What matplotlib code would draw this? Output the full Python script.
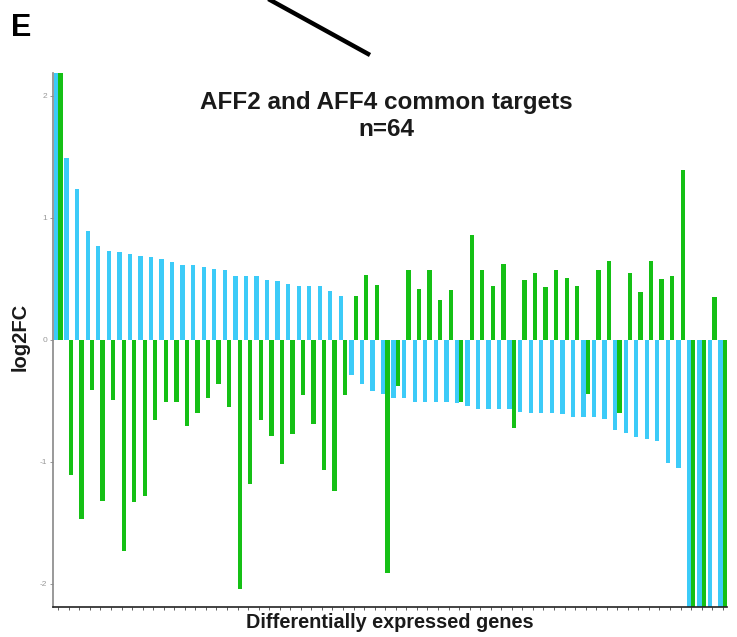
import numpy as np
import matplotlib.pyplot as plt
from matplotlib.lines import Line2D

# log2 fold change per gene, two conditions (sorted on the blue series)
blue_fc = [2.9, 1.49, 1.24, 0.89, 0.77, 0.73, 0.72, 0.70, 0.69, 0.68,
           0.66, 0.64, 0.61, 0.61, 0.60, 0.58, 0.57, 0.52, 0.52, 0.52,
           0.49, 0.48, 0.46, 0.44, 0.44, 0.44, 0.40, 0.36, -0.29, -0.36,
           -0.42, -0.44, -0.48, -0.48, -0.51, -0.51, -0.51, -0.51, -0.52, -0.54,
           -0.57, -0.57, -0.57, -0.57, -0.59, -0.60, -0.60, -0.60, -0.61, -0.63,
           -0.63, -0.63, -0.65, -0.74, -0.76, -0.80, -0.81, -0.83, -1.01, -1.05,
           -2.6, -2.8, -3.0, -3.3]
green_fc = [2.6, -1.11, -1.47, -0.41, -1.32, -0.49, -1.73, -1.33, -1.28, -0.66,
            -0.51, -0.51, -0.71, -0.60, -0.48, -0.36, -0.55, -2.04, -1.18, -0.66,
            -0.79, -1.02, -0.77, -0.45, -0.69, -1.07, -1.24, -0.45, 0.36, 0.53,
            0.45, -1.91, -0.38, 0.57, 0.42, 0.57, 0.33, 0.41, -0.51, 0.86,
            0.57, 0.44, 0.62, -0.72, 0.49, 0.55, 0.43, 0.57, 0.51, 0.44,
            -0.44, 0.57, 0.65, -0.60, 0.55, 0.39, 0.65, 0.50, 0.52, 1.39,
            -2.7, -2.9, 0.35, -3.1]
y_ticks = [-2, -1, 0, 1, 2]
y_ticklabels = ["-2", "-1", "0", "1", "2"]

plt.rcParams['font.family'] = ['Liberation Sans', 'DejaVu Sans']

genes = np.arange(1, len(blue_fc) + 1)
w = 0.41

fig = plt.figure(figsize=(7.37, 6.37), dpi=100)
ax = fig.add_axes([0.0723, 0.0471, 0.9141, 0.8388])

ax.bar(genes - w / 2, blue_fc, width=w, color='#3CCBF8', linewidth=0)
ax.bar(genes + w / 2, green_fc, width=w, color='#15C015', linewidth=0)

ax.set_xlim(0.53, 64.4)
ax.set_ylim(-2.19, 2.19)
ax.set_xticks(genes)
ax.set_xticklabels([])
ax.set_yticks(y_ticks)
ax.set_yticklabels(y_ticklabels, fontsize=6, color='#999999')
ax.tick_params(axis='x', length=2.5, width=0.6, color='#444444')
ax.tick_params(axis='y', length=2.5, width=0.6, color='#888888', pad=2)

for side in ['top', 'right']:
    ax.spines[side].set_visible(False)
ax.spines['left'].set_color('#888888')
ax.spines['left'].set_linewidth(1.2)
ax.spines['bottom'].set_color('#222222')
ax.spines['bottom'].set_linewidth(1.2)

fig.text(386 / 737, 1 - 116 / 637, "AFF2 and AFF4 common targets\nn=64",
         ha='center', va='center', fontsize=17.5, fontweight='bold',
         linespacing=1.25, color='#1a1a1a')
fig.text(389.5 / 737, 1 - 623 / 637, "Differentially expressed genes",
         ha='center', va='center', fontsize=14.3, fontweight='bold', color='#1a1a1a')
fig.text(20 / 737, 1 - 337 / 637, "log2FC", rotation=90,
         ha='center', va='center', fontsize=14.5, fontweight='bold', color='#1a1a1a')

# panel letter and the pointer line above it
fig.text(11 / 737, 1 - 24 / 637, "E", ha='left', va='center_baseline',
         fontsize=22, fontweight='bold')
fig.add_artist(Line2D([262 / 737, 370 / 737], [1 + 4.5 / 637, 1 - 55 / 637],
                      transform=fig.transFigure, color='black', linewidth=3.2,
                      solid_capstyle='butt'))

fig.savefig("out.png", dpi=100)
